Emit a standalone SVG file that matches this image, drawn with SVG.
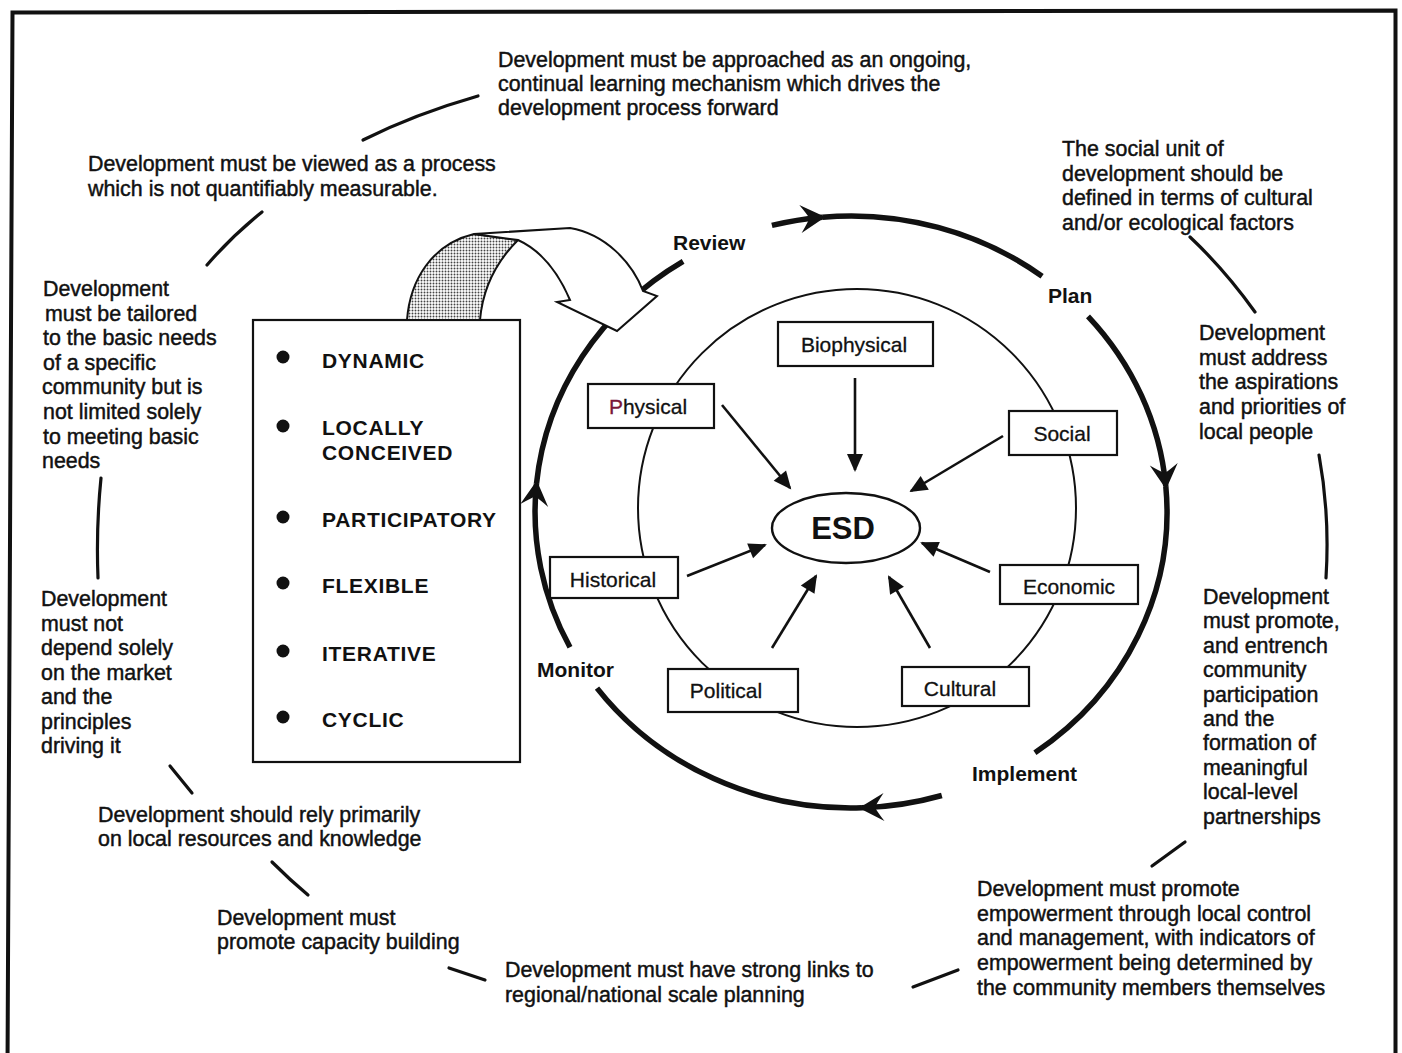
<svg xmlns="http://www.w3.org/2000/svg" width="1402" height="1053" viewBox="0 0 1402 1053">
  <defs>
    <style>
      .note { font-family: "Liberation Sans", Arial, sans-serif; font-size: 21.4px; fill: #111; stroke: #111; stroke-width: 0.45; }
      .stage { font-family: "Liberation Sans", Arial, sans-serif; font-size: 21px; font-weight: bold; fill: #111; }
      .item { font-family: "Liberation Sans", Arial, sans-serif; font-size: 21px; font-weight: bold; fill: #111; letter-spacing: 0.7px; }
      .factor { font-family: "Liberation Sans", Arial, sans-serif; font-size: 21px; fill: #111; text-anchor: middle; stroke: #111; stroke-width: 0.3; }
      .fbox { fill: #fff; stroke: #111; stroke-width: 2.2; }
      .cycle { fill: none; stroke: #111; stroke-width: 5.5; }
      .feed { fill: none; stroke: #111; stroke-width: 2.6; }
      .link { fill: none; stroke: #111; stroke-width: 3.2; stroke-linecap: round; }
    </style>
    <marker id="barb" markerUnits="userSpaceOnUse" viewBox="-26 -17 30 34" markerWidth="30" markerHeight="34" refX="0" refY="0" orient="auto" overflow="visible">
      <path d="M3,0 L-22,-14 Q-15,-4 -13,0 Q-15,4 -22,14 Z" fill="#111"/>
    </marker>
    <marker id="tri" markerUnits="userSpaceOnUse" viewBox="-18 -9 22 18" markerWidth="22" markerHeight="18" refX="0" refY="0" orient="auto" overflow="visible">
      <path d="M2,0 L-16,-8 L-16,8 Z" fill="#111"/>
    </marker>
    <pattern id="stipple" patternUnits="userSpaceOnUse" width="3" height="3">
      <rect width="3" height="3" fill="#fff"/>
      <circle cx="1.5" cy="1.5" r="0.95" fill="#444"/>
    </pattern>
  </defs>

  <rect width="1402" height="1053" fill="#fff"/>

  <!-- outer frame -->
  <path d="M7.5,1070 L12.5,12.5 L1395.5,10.5 L1395.5,1070" fill="none" stroke="#111" stroke-width="4"/>

  <!-- planning cycle: Review, Plan, Implement, Monitor -->
  <g id="cycle">
    <path class="cycle" d="M771.9,225.4 A316,296 0 0 1 822.4,217.2" marker-end="url(#barb)"/>
    <path class="cycle" d="M822.4,217.2 A316,296 0 0 1 1042.1,276.2"/>
    <path class="cycle" d="M1088,316.3 A316,296 0 0 1 1165.8,486.2" marker-end="url(#barb)"/>
    <path class="cycle" d="M1165.8,486.2 A316,296 0 0 1 1034.9,752.7"/>
    <path class="cycle" d="M941.8,795.5 A316,296 0 0 1 862,807.8" marker-end="url(#barb)"/>
    <path class="cycle" d="M862,807.8 A316,296 0 0 1 597,688.1"/>
    <path class="cycle" d="M570,647.3 A316,296 0 0 1 536.5,483.6" marker-end="url(#barb)"/>
    <path class="cycle" d="M536.5,483.6 A316,296 0 0 1 683.1,261.3"/>
  </g>

  <g id="stage-labels">
    <text class="stage" x="673" y="250">Review</text>
    <text class="stage" x="1048" y="303">Plan</text>
    <text class="stage" x="972" y="781">Implement</text>
    <text class="stage" x="537" y="677">Monitor</text>
  </g>

  <!-- principles box with feedback ribbon -->
  <g id="principles">
    <rect x="253" y="320" width="267" height="442" fill="#fff" stroke="#111" stroke-width="2.2"/>
    <circle cx="283" cy="357" r="6.5" fill="#111"/>
    <circle cx="283" cy="426" r="6.5" fill="#111"/>
    <circle cx="283" cy="517" r="6.5" fill="#111"/>
    <circle cx="283" cy="583" r="6.5" fill="#111"/>
    <circle cx="283" cy="651" r="6.5" fill="#111"/>
    <circle cx="283" cy="717" r="6.5" fill="#111"/>
    <text class="item" x="322" y="368">DYNAMIC</text>
    <text class="item" x="322" y="435">LOCALLY</text>
    <text class="item" x="322" y="460">CONCEIVED</text>
    <text class="item" x="322" y="527">PARTICIPATORY</text>
    <text class="item" x="322" y="593">FLEXIBLE</text>
    <text class="item" x="322" y="661">ITERATIVE</text>
    <text class="item" x="322" y="727">CYCLIC</text>
  </g>
  <g id="feedback-arrow">
    <path d="M407,320 C410,280 432,244 474,234 L518,240 C500,258 483,285 480,320 Z" fill="url(#stipple)" stroke="#111" stroke-width="2"/>
    <path d="M474,234 L570,228 C605,234 632,262 643,291 L657,296 L617,331 L557,302 L570,300 C558,272 540,250 518,240 Z" fill="#fff" stroke="#111" stroke-width="2" stroke-linejoin="miter"/>
  </g>

  <!-- factors feeding ESD -->
  <circle cx="857" cy="508" r="219" fill="none" stroke="#111" stroke-width="2"/>

  <g id="connectors">
    <path class="feed" d="M855,378 L855,470" marker-end="url(#tri)"/>
    <path class="feed" d="M722,405 L790,488" marker-end="url(#tri)"/>
    <path class="feed" d="M1003,436 L911,491" marker-end="url(#tri)"/>
    <path class="feed" d="M687,576 L765,545" marker-end="url(#tri)"/>
    <path class="feed" d="M990,572 L922,543" marker-end="url(#tri)"/>
    <path class="feed" d="M772,648 L816,576" marker-end="url(#tri)"/>
    <path class="feed" d="M930,648 L889,577" marker-end="url(#tri)"/>

    <!-- links between the surrounding statements -->
    <path class="link" d="M363,140 Q415,114 478,96"/>
    <path class="link" d="M207,265 Q232,236 262,212"/>
    <path class="link" d="M101,478 Q96,528 98,578"/>
    <path class="link" d="M170,766 L192,793"/>
    <path class="link" d="M272,862 Q290,880 308,895"/>
    <path class="link" d="M449,968 L485,980"/>
    <path class="link" d="M913,987 L958,970"/>
    <path class="link" d="M1152,866 L1185,842"/>
    <path class="link" d="M1319,455 Q1330,515 1326,578"/>
    <path class="link" d="M1190,237 Q1225,270 1255,312"/>
  </g>

  <g id="esd">
    <ellipse cx="846" cy="528" rx="74" ry="35" fill="#fff" stroke="#111" stroke-width="2.4"/>
    <text x="843" y="539" text-anchor="middle" font-family="Liberation Sans, Arial, sans-serif" font-size="31" font-weight="bold" fill="#111">ESD</text>
  </g>
  <g id="biophysical">
    <rect class="fbox" x="778" y="322" width="155" height="44"/>
    <text class="factor" x="854" y="352">Biophysical</text>
  </g>
  <g id="physical">
    <rect class="fbox" x="588" y="384" width="126" height="44"/>
    <text class="factor" x="648" y="414"><tspan fill="#7a1838" stroke="#7a1838">P</tspan>hysical</text>
  </g>
  <g id="social">
    <rect class="fbox" x="1009" y="411" width="108" height="44"/>
    <text class="factor" x="1062" y="441">Social</text>
  </g>
  <g id="historical">
    <rect class="fbox" x="550" y="557" width="128" height="41"/>
    <text class="factor" x="613" y="587">Historical</text>
  </g>
  <g id="economic">
    <rect class="fbox" x="1000" y="565" width="138" height="39"/>
    <text class="factor" x="1069" y="594">Economic</text>
  </g>
  <g id="political">
    <rect class="fbox" x="668" y="669" width="130" height="43"/>
    <text class="factor" x="726" y="698">Political</text>
  </g>
  <g id="cultural">
    <rect class="fbox" x="902" y="667" width="127" height="39"/>
    <text class="factor" x="960" y="696">Cultural</text>
  </g>

  <!-- surrounding statements -->
  <g id="statement-learning">
    <text class="note" x="498" y="67">Development must be approached as an ongoing,<tspan x="498" dy="24">continual learning mechanism which drives the</tspan><tspan x="498" dy="24">development process forward</tspan></text>
  </g>
  <g id="statement-process">
    <text class="note" x="88" y="171">Development must be viewed as a process<tspan x="88" dy="25">which is not quantifiably measurable.</tspan></text>
  </g>
  <g id="statement-social-unit">
    <text class="note" x="1062" y="156">The social unit of<tspan x="1062" dy="24.7">development should be</tspan><tspan x="1062" dy="24.7">defined in terms of cultural</tspan><tspan x="1062" dy="24.7">and/or ecological factors</tspan></text>
  </g>
  <g id="statement-needs">
    <text class="note" x="43" y="296">Development<tspan x="45" dy="24.6">must be tailored</tspan><tspan x="43" dy="24.6">to the basic needs</tspan><tspan x="43" dy="24.6">of a specific</tspan><tspan x="42" dy="24.6">community but is</tspan><tspan x="43" dy="24.6">not limited solely</tspan><tspan x="43" dy="24.6">to meeting basic</tspan><tspan x="42" dy="24.6">needs</tspan></text>
  </g>
  <g id="statement-aspirations">
    <text class="note" x="1199" y="340">Development<tspan x="1199" dy="24.7">must address</tspan><tspan x="1199" dy="24.7">the aspirations</tspan><tspan x="1199" dy="24.7">and priorities of</tspan><tspan x="1199" dy="24.7">local people</tspan></text>
  </g>
  <g id="statement-market">
    <text class="note" x="41" y="606">Development<tspan x="41" dy="24.5">must not</tspan><tspan x="41" dy="24.5">depend solely</tspan><tspan x="41" dy="24.5">on the market</tspan><tspan x="41" dy="24.5">and the</tspan><tspan x="41" dy="24.5">principles</tspan><tspan x="41" dy="24.5">driving it</tspan></text>
  </g>
  <g id="statement-participation">
    <text class="note" x="1203" y="604">Development<tspan x="1203" dy="24.4">must promote,</tspan><tspan x="1203" dy="24.4">and entrench</tspan><tspan x="1203" dy="24.4">community</tspan><tspan x="1203" dy="24.4">participation</tspan><tspan x="1203" dy="24.4">and the</tspan><tspan x="1203" dy="24.4">formation of</tspan><tspan x="1203" dy="24.4">meaningful</tspan><tspan x="1203" dy="24.4">local-level</tspan><tspan x="1203" dy="24.4">partnerships</tspan></text>
  </g>
  <g id="statement-resources">
    <text class="note" x="98" y="822">Development should rely primarily<tspan x="98" dy="24">on local resources and knowledge</tspan></text>
  </g>
  <g id="statement-capacity">
    <text class="note" x="217" y="925">Development must<tspan x="217" dy="24">promote capacity building</tspan></text>
  </g>
  <g id="statement-regional">
    <text class="note" x="505" y="977">Development must have strong links to<tspan x="505" dy="25">regional/national scale planning</tspan></text>
  </g>
  <g id="statement-empowerment">
    <text class="note" x="977" y="896">Development must promote<tspan x="977" dy="24.7">empowerment through local control</tspan><tspan x="977" dy="24.7">and management, with indicators of</tspan><tspan x="977" dy="24.7">empowerment being determined by</tspan><tspan x="977" dy="24.7">the community members themselves</tspan></text>
  </g>
</svg>
